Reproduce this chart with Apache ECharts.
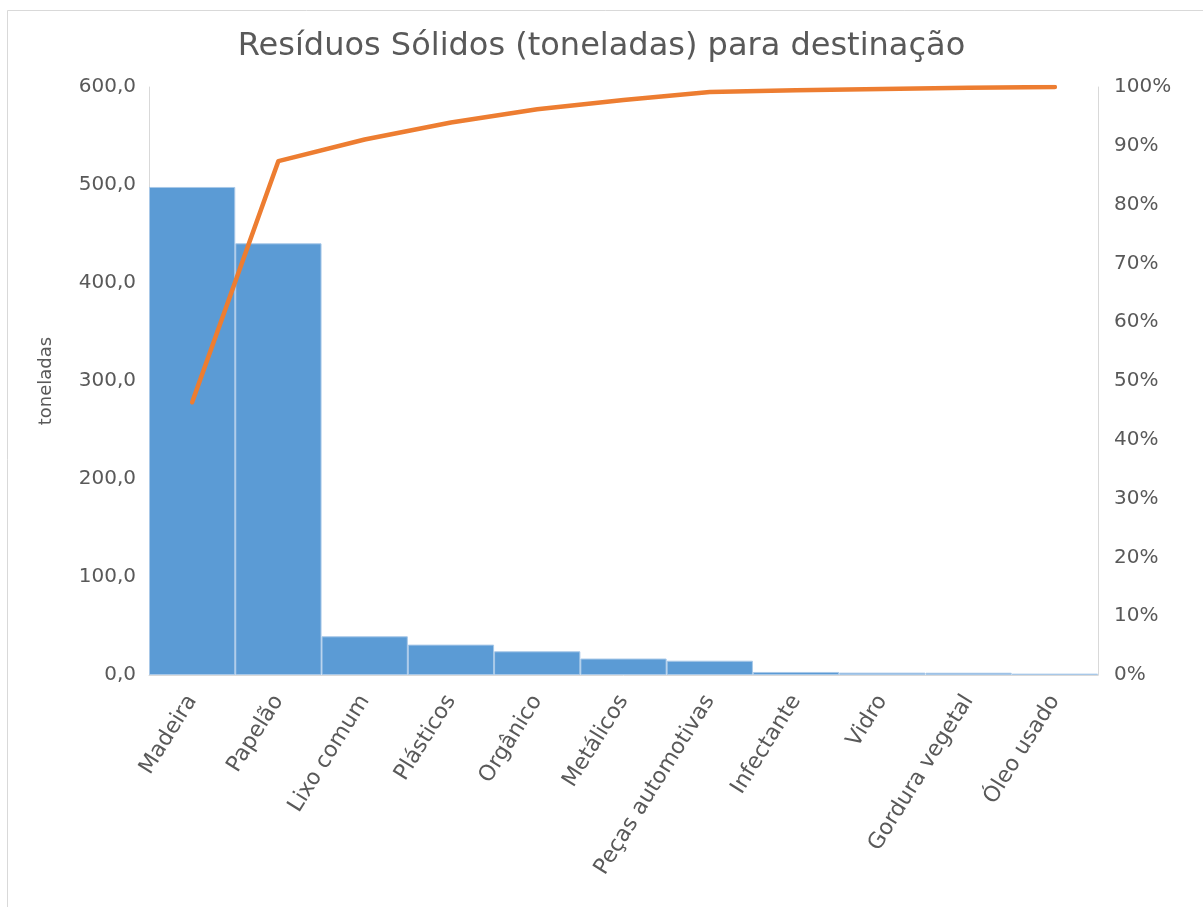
<!DOCTYPE html>
<html lang="pt">
<head>
<meta charset="utf-8">
<title>Resíduos Sólidos (toneladas) para destinação</title>
<script src="https://cdn.jsdelivr.net/npm/echarts@6/dist/echarts.min.js"></script>
<style>
  html, body { margin: 0; padding: 0; background: #ffffff; }
  #chart { width: 1203px; height: 907px; }
</style>
</head>
<body>
<div id="chart"></div>
<script>
// Tipos de resíduo, em ordem decrescente de quantidade
const categories = ['Madeira', 'Papelão', 'Lixo comum', 'Plásticos', 'Orgânico', 'Metálicos',
  'Peças automotivas', 'Infectante', 'Vidro', 'Gordura vegetal', 'Óleo usado'];

// Quantidade de cada tipo, em toneladas
const toneladas = [498.0, 440.5, 39.5, 31.0, 24.2, 16.8, 14.6, 3.1, 2.4, 2.3, 1.4];

// Marcas do eixo da esquerda (toneladas) e da direita (percentual acumulado)
const leftTicks = [0, 100, 200, 300, 400, 500, 600];
const rightTicks = [0, 0.1, 0.2, 0.3, 0.4, 0.5, 0.6, 0.7, 0.8, 0.9, 1.0];

// Percentual acumulado (curva de Pareto)
const total = toneladas.reduce((s, v) => s + v, 0);
let acc = 0;
const acumulado = toneladas.map(v => { acc += v; return acc / total; });

const FONT = 'DejaVu Sans';
const GREY_TEXT = '#595959';
const GREY_LINE = '#d9d9d9';

const chart = echarts.init(document.getElementById('chart'), null, { renderer: 'canvas' });

chart.setOption({
  backgroundColor: '#ffffff',
  animation: false,
  graphic: [{
    type: 'rect',
    shape: { x: 7.5, y: 10.5, width: 1220, height: 920 },
    style: { fill: 'none', stroke: GREY_LINE, lineWidth: 1 },
    silent: true,
    z: -10
  }],
  title: {
    text: 'Resíduos Sólidos (toneladas) para destinação',
    left: 'center',
    top: 26,
    textStyle: { fontFamily: FONT, fontSize: 32, fontWeight: 'normal', color: GREY_TEXT }
  },
  grid: { left: 149, right: 105, top: 87, bottom: 232, containLabel: false },
  xAxis: {
    type: 'category',
    data: categories,
    axisLine: { show: true, lineStyle: { color: GREY_LINE, width: 1 } },
    axisTick: { show: false },
    axisLabel: {
      rotate: 58,
      interval: 0,
      margin: 22,
      fontFamily: FONT,
      fontSize: 22,
      color: GREY_TEXT
    }
  },
  yAxis: [{
    type: 'value',
    min: leftTicks[0],
    max: leftTicks[leftTicks.length - 1],
    interval: leftTicks[1] - leftTicks[0],
    name: 'toneladas',
    nameLocation: 'middle',
    nameRotate: 90,
    nameGap: 94,
    nameTextStyle: { fontFamily: FONT, fontSize: 18, color: GREY_TEXT },
    axisLine: { show: true, lineStyle: { color: GREY_LINE, width: 1 } },
    axisTick: { show: false },
    splitLine: { show: false },
    axisLabel: {
      margin: 13,
      fontFamily: FONT,
      fontSize: 20,
      color: GREY_TEXT,
      formatter: v => v.toFixed(1).replace('.', ',')
    }
  }, {
    type: 'value',
    position: 'right',
    min: rightTicks[0],
    max: rightTicks[rightTicks.length - 1],
    interval: 0.1,
    axisLine: { show: true, lineStyle: { color: GREY_LINE, width: 1 } },
    axisTick: { show: false },
    splitLine: { show: false },
    axisLabel: {
      margin: 16,
      fontFamily: FONT,
      fontSize: 20,
      color: GREY_TEXT,
      formatter: v => Math.round(v * 100) + '%'
    }
  }],
  series: [{
    name: 'toneladas',
    type: 'bar',
    data: toneladas,
    yAxisIndex: 0,
    barCategoryGap: 0,
    barGap: 0,
    itemStyle: { color: '#5B9BD5', borderColor: '#a8c8e8', borderWidth: 1 }
  }, {
    name: 'acumulado',
    type: 'line',
    data: acumulado,
    yAxisIndex: 1,
    showSymbol: false,
    symbol: 'none',
    lineStyle: { color: '#ED7D31', width: 4.5, cap: 'round', join: 'round' },
    z: 5
  }]
});
</script>
</body>
</html>
